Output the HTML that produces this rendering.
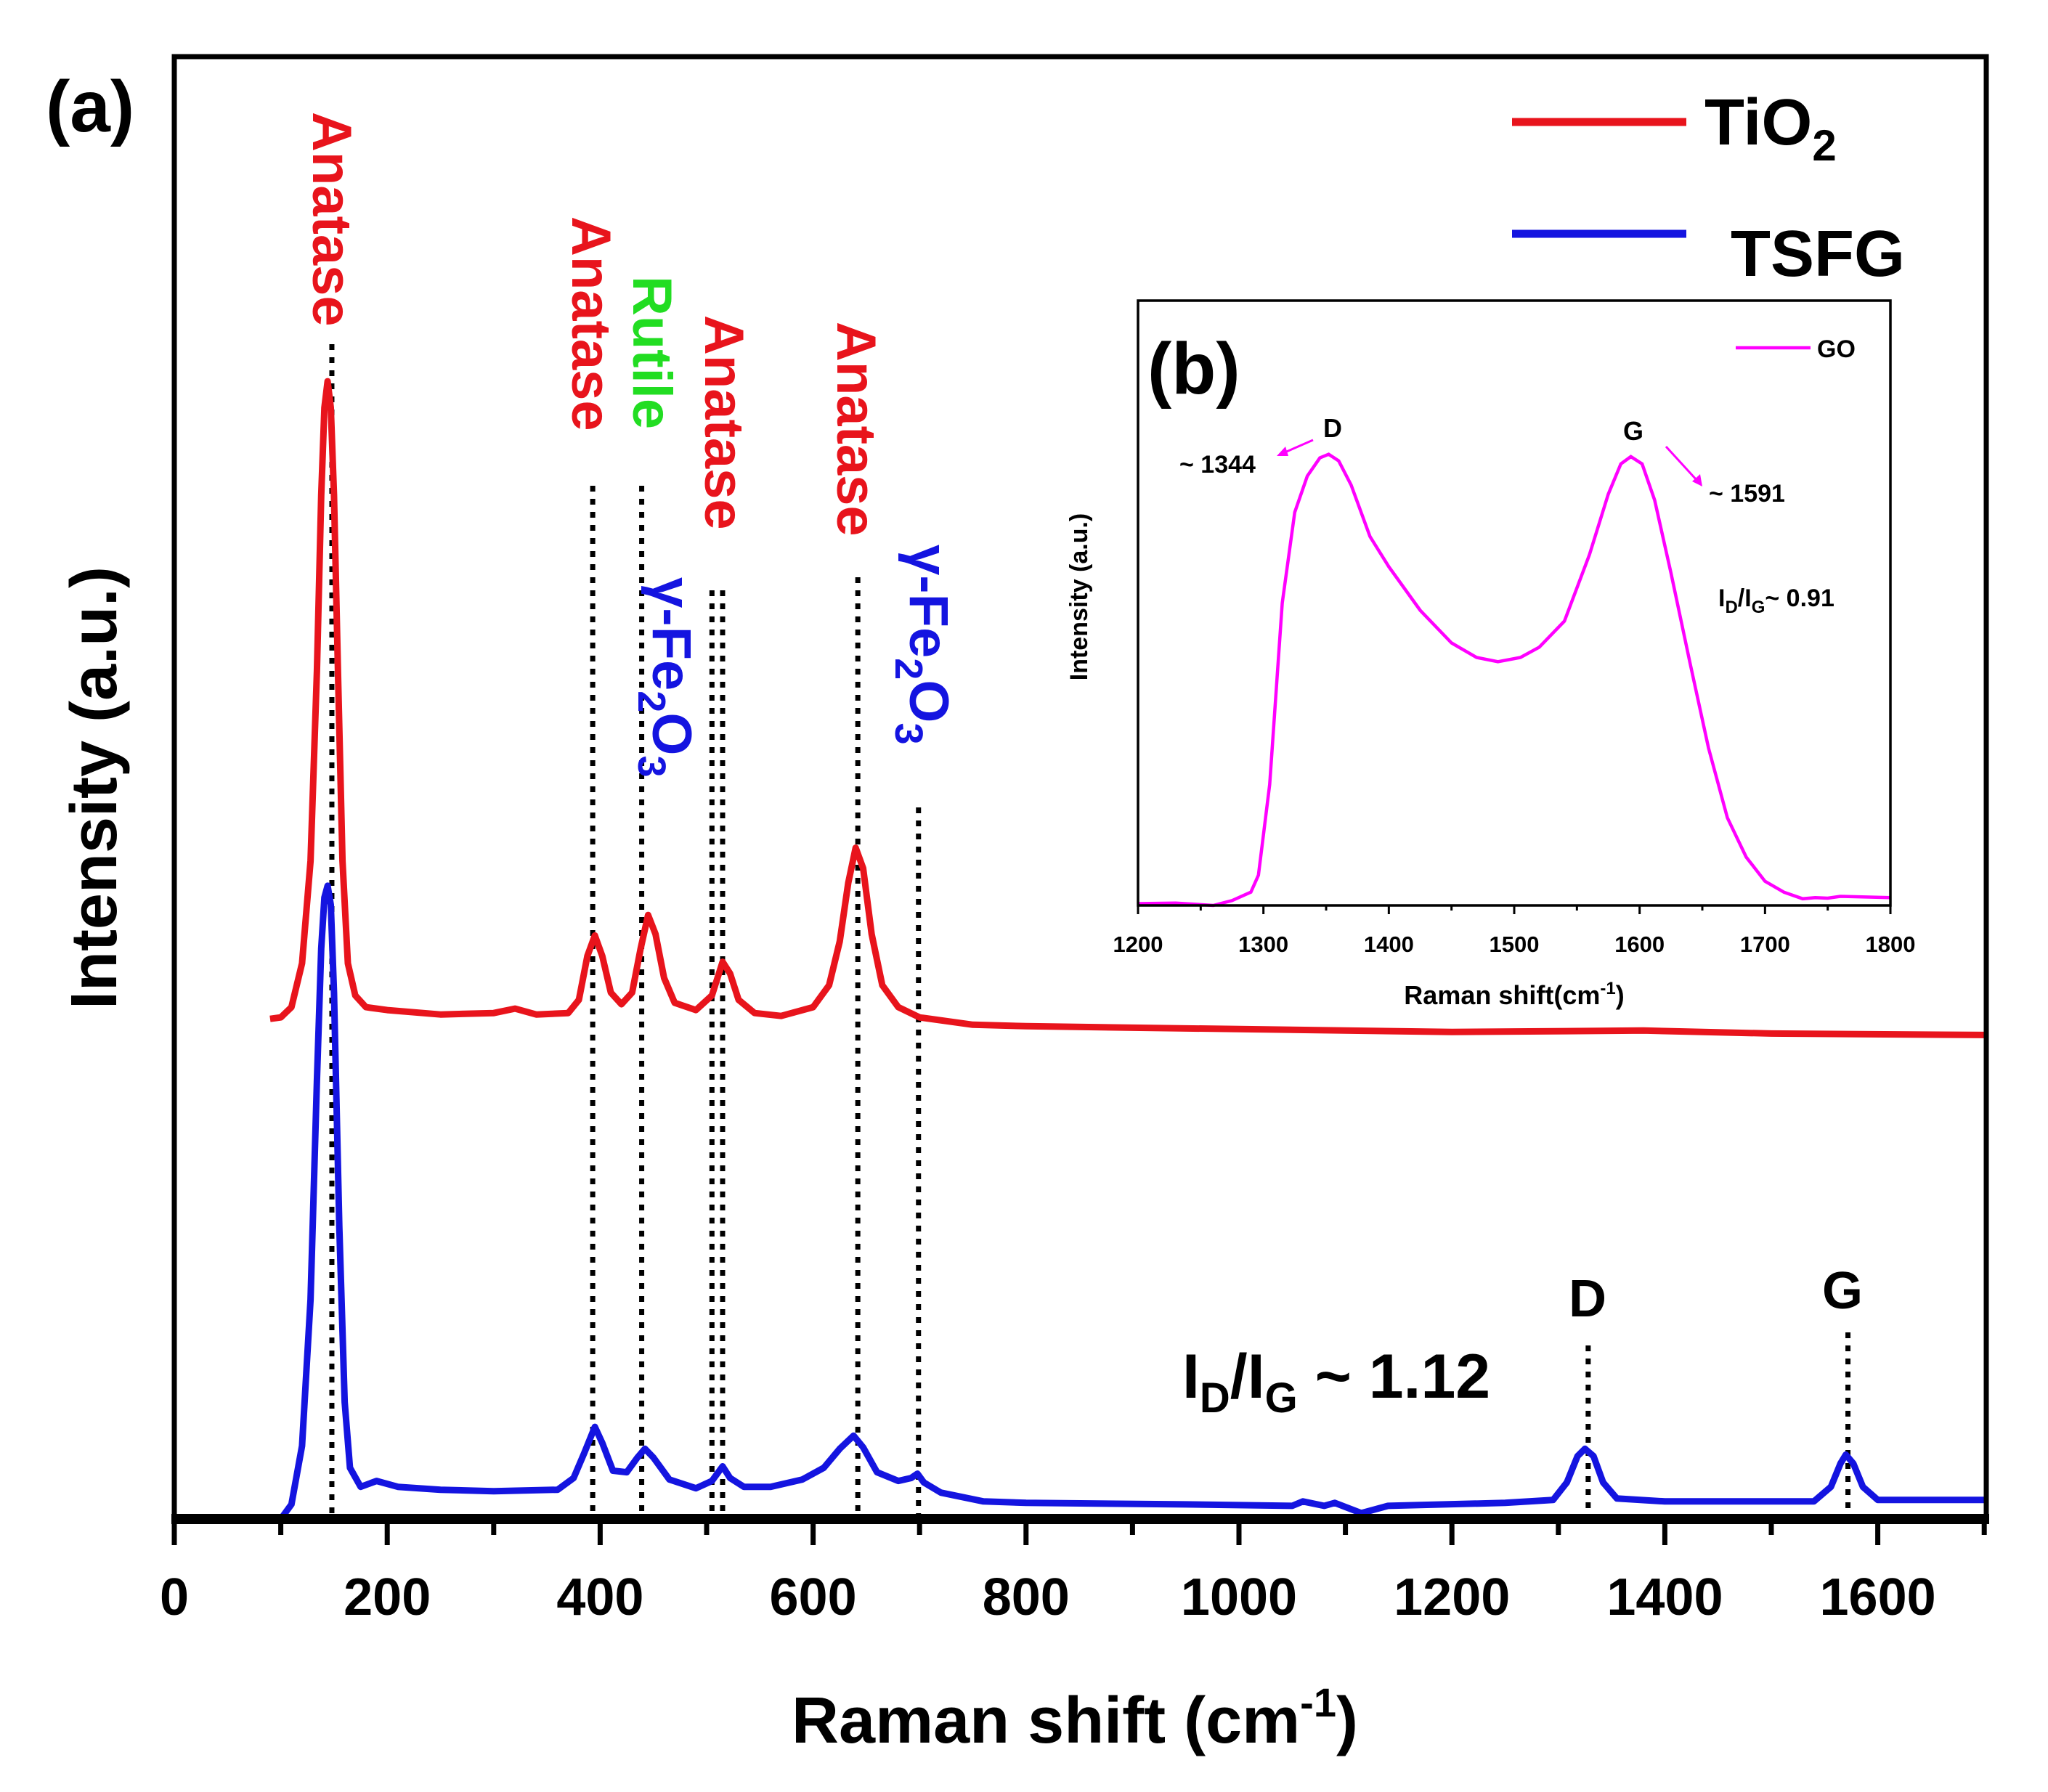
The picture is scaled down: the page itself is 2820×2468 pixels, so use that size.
<!DOCTYPE html>
<html><head><meta charset="utf-8"><style>
html,body{margin:0;padding:0;background:#fff;}
svg{display:block;font-family:"Liberation Sans",Arial,sans-serif;}
</style></head><body>
<svg id="chart" width="2820" height="2468" viewBox="0 0 2820 2468" xmlns="http://www.w3.org/2000/svg">
<g id="main"></g>
<g id="inset"></g>
</svg>
<script>
// ---- main chart data ----
const tio2X = [90,100,110,120,128,134,138,141,144,147,150,154,158,163,170,180,200,250,300,320,340,370,380,388,395,402,410,420,430,438,445,452,460,470,490,505,515,522,530,545,570,600,615,625,633,640,647,655,665,680,700,750,800,1000,1200,1380,1500,1700];
const tio2Y = [34.2,34.3,35,38,45,58,70,76,77.8,76,70,57,45,38,35.8,35,34.8,34.5,34.6,34.9,34.5,34.6,35.5,38.5,39.9,38.5,36,35.2,36,39,41.3,40,37,35.3,34.8,35.8,38.1,37.3,35.5,34.6,34.4,35,36.5,39.5,43.5,45.9,44.5,40,36.5,35,34.3,33.8,33.7,33.5,33.3,33.4,33.2,33.1];
const tsfgX = [100,110,120,128,134,138,141,144,147,150,155,160,165,175,190,210,250,300,360,375,385,395,402,412,425,435,442,450,465,490,505,515,522,535,560,590,610,625,638,647,660,680,692,698,704,720,760,800,950,1050,1060,1080,1090,1115,1140,1250,1295,1308,1318,1325,1333,1342,1355,1400,1540,1556,1565,1570,1577,1586,1600,1700];
const tsfgY = [0,1,5,15,30,39,42.5,43.3,42,36,20,8,3.5,2.2,2.6,2.2,2.0,1.9,2.0,2.8,4.5,6.3,5.2,3.3,3.2,4.2,4.8,4.2,2.7,2.1,2.6,3.6,2.8,2.2,2.2,2.7,3.5,4.8,5.7,4.9,3.2,2.6,2.8,3.1,2.5,1.8,1.2,1.1,1.0,0.9,1.2,0.9,1.1,0.4,0.9,1.1,1.3,2.5,4.3,4.8,4.3,2.5,1.4,1.2,1.2,2.2,3.8,4.4,3.8,2.2,1.3,1.3];
const xTicks = [0,200,400,600,800,1000,1200,1400,1600];
const xMinor = [100,300,500,700,900,1100,1300,1500,1700];
const peakLines = [148,393,439,505,515,642,699,1328,1572];
const peakTops = [474,669,669,813,813,795,1112,1853,1835];
// ---- inset data ----
const goX = [1200,1230,1260,1275,1290,1296,1305,1315,1325,1335,1345,1352,1360,1370,1385,1400,1425,1450,1470,1487,1505,1520,1540,1560,1575,1585,1593,1602,1612,1625,1640,1655,1670,1685,1700,1715,1730,1740,1750,1760,1800];
const goY = [0.3,0.4,0,0.8,2.2,5,20,50,65,71,74,74.6,73.5,69.5,61,56,48.8,43.4,41,40.3,41,42.7,47,58,68,73,74.2,73,67,55,40.3,26,14.5,8,4,2.2,1.1,1.3,1.2,1.5,1.3];
const insetTicks = [1200,1300,1400,1500,1600,1700,1800];
const insetMinor = [1250,1350,1450,1550,1650,1750];

const NS="http://www.w3.org/2000/svg";
function mk(parent,tag,attrs,text){const e=document.createElementNS(NS,tag);for(const k in attrs)e.setAttribute(k,attrs[k]);if(text!==undefined)e.textContent=text;parent.appendChild(e);return e;}
const X=v=>240+v*1.466, Y=i=>2092-i*20.14;
const IX=v=>1567+(v-1200)*1.7267, IY=i=>1247-i*8.33;
const main=document.getElementById('main'), inset=document.getElementById('inset');

peakLines.forEach((p,k)=>{const l=mk(main,'line',{x1:X(p),x2:X(p),y1:peakTops[k],y2:2092,stroke:'#000','stroke-width':7,'stroke-dasharray':'8 10'});

});

function path(xs,ys,fx,fy){return xs.map((v,i)=>(i?'L':'M')+fx(v).toFixed(1)+' '+fy(ys[i]).toFixed(1)).join(' ');}
const pr=mk(main,'path',{d:path(tio2X,tio2Y,X,Y),fill:'none',stroke:'#e8141c','stroke-width':9,'stroke-linejoin':'round'});


const pb=mk(main,'path',{d:path(tsfgX,tsfgY,X,Y),fill:'none',stroke:'#1414e0','stroke-width':9,'stroke-linejoin':'round'});



const fr=mk(main,'rect',{x:240,y:78,width:2495,height:2014,fill:'none',stroke:'#000','stroke-width':7});


const ba=mk(main,'line',{x1:236,x2:2739,y1:2092,y2:2092,stroke:'#000','stroke-width':14});


xTicks.forEach(v=>{const t=mk(main,'line',{x1:X(v),x2:X(v),y1:2092,y2:2128,stroke:'#000','stroke-width':7});


const lb=mk(main,'text',{x:X(v),y:2224,'text-anchor':'middle','font-size':72,'font-weight':'bold'},String(v));

});
xMinor.forEach(v=>{const t=mk(main,'line',{x1:X(v),x2:X(v),y1:2092,y2:2114,stroke:'#000','stroke-width':7});

});

const ip=mk(inset,'path',{d:path(goX,goY,IX,IY),fill:'none',stroke:'#ff00ff','stroke-width':4.5});


insetTicks.forEach(v=>{const t=mk(inset,'line',{x1:IX(v),x2:IX(v),y1:1247,y2:1259,stroke:'#000','stroke-width':3});


const lb=mk(inset,'text',{x:IX(v),y:1311,'text-anchor':'middle','font-size':31,'font-weight':'bold'},String(v));

});
insetMinor.forEach(v=>{const t=mk(inset,'line',{x1:IX(v),x2:IX(v),y1:1247,y2:1254,stroke:'#000','stroke-width':3});

});
</script>
<svg style="position:absolute;left:0;top:0" width="2820" height="2468" viewBox="0 0 2820 2468" xmlns="http://www.w3.org/2000/svg" font-family="Liberation Sans, Arial, sans-serif" font-weight="bold">
<text x="63" y="181" font-size="100">(a)</text>
<text transform="translate(160,1085) rotate(-90)" text-anchor="middle" font-size="90">Intensity (a.u.)</text>
<text x="1480" y="2400" text-anchor="middle" font-size="90">Raman shift (cm<tspan dy="-36" font-size="56">-1</tspan><tspan dy="36">)</tspan></text>
<line x1="2082" y1="168" x2="2322" y2="168" stroke="#e8141c" stroke-width="11"/>
<text x="2347" y="199" font-size="90">TiO<tspan dy="22" font-size="60">2</tspan></text>
<line x1="2082" y1="322" x2="2322" y2="322" stroke="#1414e0" stroke-width="11"/>
<text x="2383" y="380" font-size="90">TSFG</text>
<g font-size="76">
<text transform="translate(431,154) rotate(90)" fill="#e8141c">Anatase</text>
<text transform="translate(788,298) rotate(90)" fill="#e8141c">Anatase</text>
<text transform="translate(872,380) rotate(90)" fill="#22dd22">Rutile</text>
<text transform="translate(971,434) rotate(90)" fill="#e8141c">Anatase</text>
<text transform="translate(1153,443) rotate(90)" fill="#e8141c">Anatase</text>
<text transform="translate(899,795) rotate(90)" fill="#1414e0">γ-Fe<tspan dy="20" font-size="54">2</tspan><tspan dy="-20">O</tspan><tspan dy="20" font-size="54">3</tspan></text>
<text transform="translate(1253,750) rotate(90)" fill="#1414e0">γ-Fe<tspan dy="20" font-size="54">2</tspan><tspan dy="-20">O</tspan><tspan dy="20" font-size="54">3</tspan></text>
</g>
<text x="2186" y="1813" text-anchor="middle" font-size="72">D</text>
<text x="2537" y="1802" text-anchor="middle" font-size="72">G</text>
<text x="1628" y="1925" font-size="86">I<tspan dy="20" font-size="58">D</tspan><tspan dy="-20">/I</tspan><tspan dy="20" font-size="58">G</tspan><tspan dy="-20"> ~ 1.12</tspan></text>
<rect x="1567" y="414" width="1036" height="833" fill="none" stroke="#000" stroke-width="3.5"/>
<text x="1580" y="542" font-size="100">(b)</text>
<line x1="2390" y1="479" x2="2493" y2="479" stroke="#ff00ff" stroke-width="4.5"/>
<text x="2502" y="492" font-size="34">GO</text>
<text x="1835" y="602" text-anchor="middle" font-size="36">D</text>
<text x="1624" y="651" font-size="34">~ 1344</text>
<line x1="1808" y1="606" x2="1767" y2="624" stroke="#ff00ff" stroke-width="3"/>
<polygon points="1758,628 1770,615 1774,628" fill="#ff00ff"/>
<text x="2249" y="606" text-anchor="middle" font-size="36">G</text>
<line x1="2294" y1="615" x2="2337" y2="662" stroke="#ff00ff" stroke-width="3"/>
<polygon points="2344,670 2330,663 2341,653" fill="#ff00ff"/>
<text x="2353" y="691" font-size="34">~ 1591</text>
<text x="2366" y="835" font-size="34">I<tspan dy="9" font-size="24">D</tspan><tspan dy="-9">/I</tspan><tspan dy="9" font-size="24">G</tspan><tspan dy="-9">~ 0.91</tspan></text>
<text x="2085" y="1383" text-anchor="middle" font-size="36">Raman shift(cm<tspan dy="-14" font-size="24">-1</tspan><tspan dy="14">)</tspan></text>
<text transform="translate(1497,822) rotate(-90)" text-anchor="middle" font-size="34">Intensity (a.u.)</text>
</svg>
</body></html>
